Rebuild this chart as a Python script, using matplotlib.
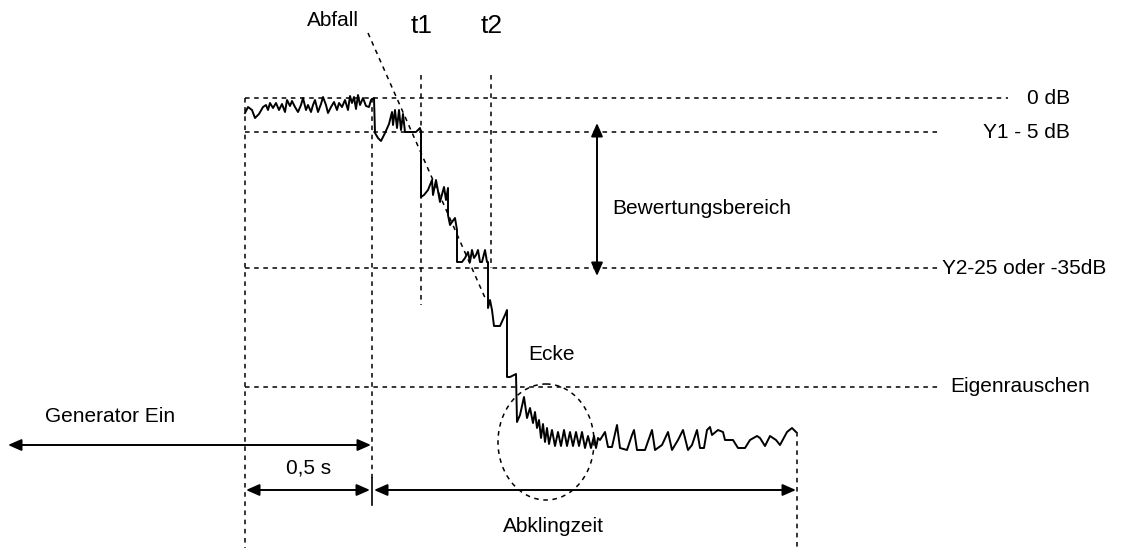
import matplotlib
matplotlib.use("Agg")
import matplotlib.pyplot as plt
from matplotlib.patches import FancyArrowPatch, Ellipse

# Decay trace (time position, level) in diagram units (pixel-like)
trace_x = [245, 248, 252, 255, 259, 263, 266, 268, 270, 273, 276, 279, 282, 285, 287, 290, 292, 295, 298,
           301, 303, 306, 308, 311, 313, 315, 318, 321, 323, 326, 328, 331, 334, 337, 339, 342, 345, 348,
           350, 352, 354, 356, 358, 360, 363, 366, 369, 371, 374,
           375, 378, 381, 385, 389, 392, 393, 395, 397, 399, 401, 403, 405, 410, 416, 420, 421,
           421, 424, 428, 432, 433, 436, 440, 444, 446, 448,
           448, 450, 452, 455, 457,
           457, 462, 465, 468, 470, 472, 474, 476, 478, 480, 482, 485, 487, 488,
           488, 490, 492, 494, 500, 505, 507,
           507, 510, 514, 516,
           517, 520, 524, 527, 530, 533, 535, 537, 539, 541, 543, 545, 547, 549, 552, 555, 558, 561, 564,
           567, 570, 573, 576, 579, 582, 585, 588, 591, 594, 596, 598,
           600, 605, 608, 612, 617, 620, 627, 632, 634, 637, 645, 652, 655, 662, 668, 672, 678, 683, 688,
           692, 697, 700, 704, 707, 710, 712, 718, 723, 725, 733, 738, 745, 750, 757, 760, 765, 770, 776,
           780, 787, 792, 796]
trace_y = [113, 107, 110, 118, 114, 107, 105, 110, 103, 108, 103, 110, 104, 112, 100, 106, 101, 107, 112,
           105, 98, 110, 105, 112, 105, 100, 112, 104, 97, 105, 113, 107, 102, 110, 103, 107, 100, 110,
           96, 103, 97, 109, 95, 105, 98, 106, 107, 100, 98,
           133, 138, 141, 133, 124, 112, 125, 110, 128, 110, 130, 114, 132, 132, 132, 128, 132,
           197, 195, 190, 180, 195, 180, 202, 187, 200, 188,
           215, 225, 222, 218, 230,
           262, 262, 258, 252, 262, 250, 258, 255, 250, 262, 262, 250, 262, 262,
           308, 300, 310, 326, 326, 315, 310,
           377, 377, 375, 374,
           422, 415, 397, 418, 408, 423, 412, 428, 420, 438, 424, 442, 428, 444, 430, 446, 432, 446, 430,
           446, 432, 446, 432, 446, 432, 448, 436, 448, 436, 448, 438,
           440, 432, 447, 447, 425, 448, 450, 435, 430, 450, 450, 430, 450, 445, 432, 450, 440, 430, 450,
           445, 430, 448, 448, 430, 427, 435, 430, 432, 440, 440, 448, 448, 440, 436, 438, 446, 436, 440,
           445, 432, 428, 432]

# Reference levels (label, level, line end)
level_labels = ["0 dB", "Y1 - 5 dB", "Y2-25 oder -35dB", "Eigenrauschen"]
level_y = [98, 132, 268, 387]
level_end = [1008, 938, 938, 938]
label_x = [1027, 983, 942, 950]

FONT = ["Liberation Sans Narrow", "Liberation Sans", "DejaVu Sans"]
FS = 15

fig = plt.figure(figsize=(11.23, 5.52), dpi=100)
ax = fig.add_axes([0, 0, 1, 1])
ax.set_xlim(0, 1123)
ax.set_ylim(552, 0)
ax.axis("off")

dash = dict(color="black", lw=1.1, linestyle=(0, (3, 3)))

# horizontal reference lines
for lab, y, xe, lx in zip(level_labels, level_y, level_end, label_x):
    ax.plot([245, xe], [y, y], **dash)
    ax.text(lx, y, lab, ha="left", va="center", fontsize=FS, family=FONT)

# vertical guide lines
ax.plot([245, 245], [98, 548], **dash)
ax.plot([372, 372], [98, 478], **dash)
ax.plot([421, 421], [75, 305], **dash)
ax.plot([491, 491], [75, 268], **dash)
ax.plot([797, 797], [432, 548], **dash)

# Abfall slope line
ax.plot([368, 486], [33, 300], **dash)

# Ecke circle
ax.add_patch(Ellipse((546, 442), 96, 116, fill=False, ec="black", lw=1.1, linestyle=(0, (3, 3))))

# trace
ax.plot(trace_x, trace_y, color="black", lw=1.4)


def arrow(p0, p1):
    ax.add_patch(FancyArrowPatch(p0, p1, arrowstyle="<|-|>,head_length=8,head_width=3.5",
                                 mutation_scale=1, lw=1.4, color="black",
                                 shrinkA=0, shrinkB=0))


arrow((8, 445), (371, 445))
arrow((246, 490), (370, 490))
arrow((374, 490), (796, 490))
arrow((597, 123), (597, 276))
ax.plot([372, 372], [478, 505], color="black", lw=1.2)

# labels
ax.text(333, 20, "Abfall", ha="center", va="center", fontsize=FS, family=FONT)
ax.text(422, 26, "t1", ha="center", va="center", fontsize=19, family=FONT)
ax.text(492, 26, "t2", ha="center", va="center", fontsize=19, family=FONT)
ax.text(612, 208, "Bewertungsbereich", ha="left", va="center", fontsize=FS, family=FONT)
ax.text(552, 355, "Ecke", ha="center", va="center", fontsize=FS, family=FONT)
ax.text(110, 417, "Generator Ein", ha="center", va="center", fontsize=FS, family=FONT)
ax.text(309, 468, "0,5 s", ha="center", va="center", fontsize=FS, family=FONT)
ax.text(553, 527, "Abklingzeit", ha="center", va="center", fontsize=FS, family=FONT)

fig.savefig("out.png", dpi=100, facecolor="white")
